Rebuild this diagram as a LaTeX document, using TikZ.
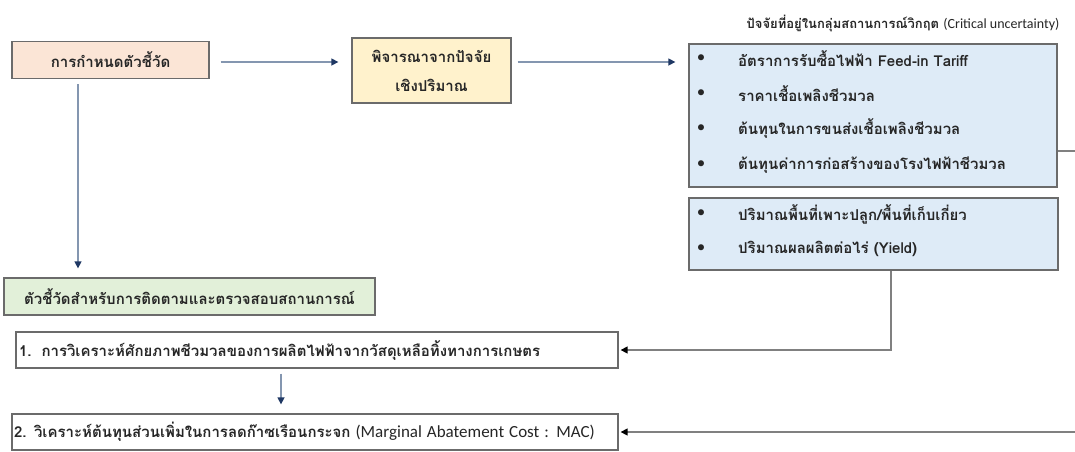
\documentclass[tikz,border=0pt]{standalone}
\usepackage{fontspec}
\setmainfont[Script=Thai]{Loma}
\newfontfamily\latinfont{Carlito}
\usetikzlibrary{arrows.meta,calc}

\definecolor{peach}{HTML}{FBE5D6}
\definecolor{cream}{HTML}{FFF2CC}
\definecolor{paleblue}{HTML}{DEEBF7}
\definecolor{palegreen}{HTML}{E2F0D9}
\definecolor{boxline}{HTML}{6B6B6B}
\definecolor{linkblue}{HTML}{8496B0}
\definecolor{tipblue}{HTML}{1F3864}
\definecolor{linkgray}{HTML}{808080}
\definecolor{ink}{HTML}{262626}

\tikzset{
  box/.style={draw=boxline, line width=1.3pt, rectangle, inner sep=0pt,
    text=ink, font=\bfseries\fontsize{15}{29}\selectfont, align=center},
  item/.style={anchor=west, inner sep=0pt, text=ink,
    font=\bfseries\fontsize{15}{16}\selectfont},
  dot/.style={inner sep=0pt, text=ink, font=\latinfont\fontsize{17}{16}\selectfont},
  bluelink/.style={draw=linkblue, line width=1.4pt,
    -{Triangle[length=7pt,width=7pt,color=tipblue]}},
  graylink/.style={draw=linkgray, line width=1.4pt,
    -{Triangle[length=7pt,width=7pt,color=black]}},
}

\begin{document}
\begin{tikzpicture}[x=1pt, y=-1pt]
\useasboundingbox (0,0) rectangle (1075,451);

% top row
\node[box, fill=peach, minimum width=197pt, minimum height=37pt]
  (define) at (110.5,60) {การกำหนดตัวชี้วัด};
\node[box, fill=cream, minimum width=159pt, minimum height=65pt]
  (consider) at (431.5,70.5) {พิจารณาจากปัจจัย\\เชิงปริมาณ};

% critical uncertainty group
\node[inner sep=0pt, text=ink, font=\bfseries\fontsize{13}{16}\selectfont]
  (head) at (903,24) {ปัจจัยที่อยู่ในกลุ่มสถานการณ์วิกฤต {\mdseries\latinfont\fontsize{14}{16}\selectfont (Critical uncertainty)}};
\node[box, fill=paleblue, minimum width=368pt, minimum height=143pt]
  (factors) at (873,115.5) {};
\node[box, fill=paleblue, minimum width=369pt, minimum height=72pt]
  (supply) at (873.5,234) {};

\foreach \y/\n/\t in {59/c1/{อัตราการรับซื้อไฟฟ้า Feed-in Tariff},
                      94/c2/{ราคาเชื้อเพลิงชีวมวล},
                      129/c3/{ต้นทุนในการขนส่งเชื้อเพลิงชีวมวล},
                      165/c4/{ต้นทุนค่าการก่อสร้างของโรงไฟฟ้าชีวมวล},
                      214/d1/{ปริมาณพื้นที่เพาะปลูก/พื้นที่เก็บเกี่ยว},
                      249/d2/{ปริมาณผลผลิตต่อไร่ (Yield)}}{
  \node[dot] (\n-dot) at (701,\y) {•};
  \node[item] (\n) at (738,\y) {\t};
}

% lower boxes
\node[box, fill=palegreen, minimum width=371pt, minimum height=37pt]
  (monitor) at (189.5,296.5) {ตัวชี้วัดสำหรับการติดตามและตรวจสอบสถานการณ์};
\node[box, fill=white, minimum width=602pt, minimum height=36pt,
      align=left, text width=596pt]
  (step1) at (317,350) {1.\ \ การวิเคราะห์ศักยภาพชีวมวลของการผลิตไฟฟ้าจากวัสดุเหลือทิ้งทางการเกษตร};
\node[box, fill=white, minimum width=606pt, minimum height=36pt,
      align=left, text width=602pt]
  (step2) at (315,432) {2. วิเคราะห์ต้นทุนส่วนเพิ่มในการลดก๊าซเรือนกระจก {\mdseries\latinfont\fontsize{17}{16}\selectfont (Marginal Abatement Cost : MAC)}};

% connectors
\draw[bluelink, shorten <=11pt, shorten >=13pt]
  (define.east |- 0,62) -- (consider.west |- 0,62);
\draw[bluelink, shorten <=6pt, shorten >=13pt]
  (consider.east |- 0,62) -- (factors.west |- 0,62);
\draw[bluelink, shorten <=5pt, shorten >=9pt]
  (define.south -| 78,0) -- (monitor.north -| 78,0);
\draw[bluelink, shorten <=5pt, shorten >=9pt]
  (step1.south -| 281,0) -- (step2.north -| 281,0);

\draw[graylink, shorten >=2pt]
  (supply.south -| 891,0) |- (step1.east);
\draw[graylink, shorten >=2pt]
  (factors.east |- 0,151) -- (1085,151) |- (step2.east);
\end{tikzpicture}
\end{document}
